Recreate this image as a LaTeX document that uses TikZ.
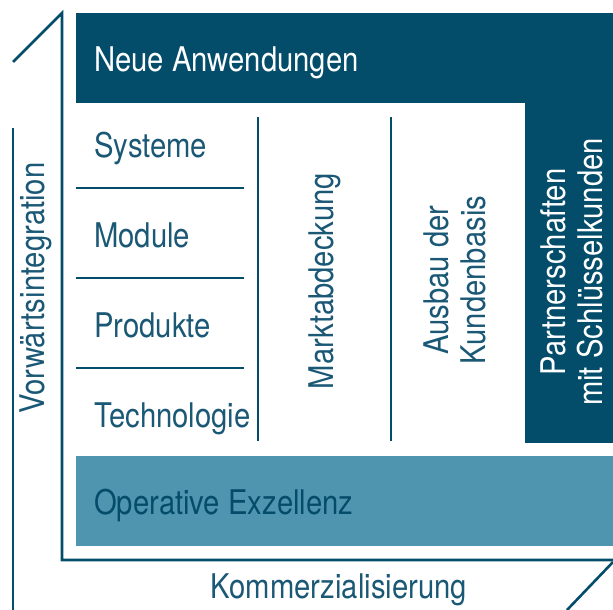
\documentclass[tikz,border=0pt]{standalone}
\usepackage{fontspec}
\setmainfont[FakeStretch=0.86]{TeX Gyre Heros}
\definecolor{dark}{HTML}{034D6B}
\definecolor{light}{HTML}{4F95B0}
\definecolor{txt}{HTML}{1A5876}
\begin{document}
\begin{tikzpicture}[x=1pt,y=-1pt,
  ln/.style={draw=dark,line width=2.6pt},
  lbl/.style={font=\fontsize{34}{37}\selectfont,text=txt,inner sep=0pt},
  vlbl/.style={lbl,rotate=90,align=center}]
\useasboundingbox (0,0) rectangle (613,610);
% frame lines
\coordinate (tl1) at (13,62);
\coordinate (tl2) at (62,13);
\coordinate (bl) at (62,560);
\coordinate (br) at (613,560);
\coordinate (br2) at (567,610);
\coordinate (br1) at (613,562);
\draw[ln,line join=miter] (tl1) -- (tl2) -- (bl) -- (br);
\draw[ln] (br1) -- (br2);
\coordinate (lt) at (13,128);
\coordinate (lb) at (13,610);
\draw[ln] (lt) -- (lb);
% boxes
\fill[dark] (76,13) rectangle (613,103);
\fill[dark] (525,103) rectangle (613,443);
\fill[light] (76,456) rectangle (613,546);
% separators
\foreach \y in {188,278,368} \draw[ln] (76,\y) -- (244,\y);
\draw[ln] (258,117) -- (258,441);
\draw[ln] (391,117) -- (391,441);
% texts
\node[lbl,anchor=base west,text=white] (na) at (94,72) {Neue Anwendungen};
\node[lbl,anchor=base west] (sy) at (94,157) {Systeme};
\node[lbl,anchor=base west] (mo) at (94,247) {Module};
\node[lbl,anchor=base west] (pr) at (94,337) {Produkte};
\node[lbl,anchor=base west] (te) at (94,427) {Technologie};
\node[lbl,anchor=base west,text=dark] (oe) at (94,514) {Operative Exzellenz};
\node[lbl,anchor=base] (ko) at (339,598) {Kommerzialisierung};
\node[vlbl] (ma) at (325,281) {Marktabdeckung};
\node[vlbl] (ak) at (455,280) {Ausbau der\\Kundenbasis};
\node[vlbl,text=white] (ps) at (572,272) {Partnerschaften\\mit Schlüsselkunden};
\node[vlbl] (vi) at (36,288) {Vorwärtsintegration};
\end{tikzpicture}
\end{document}
